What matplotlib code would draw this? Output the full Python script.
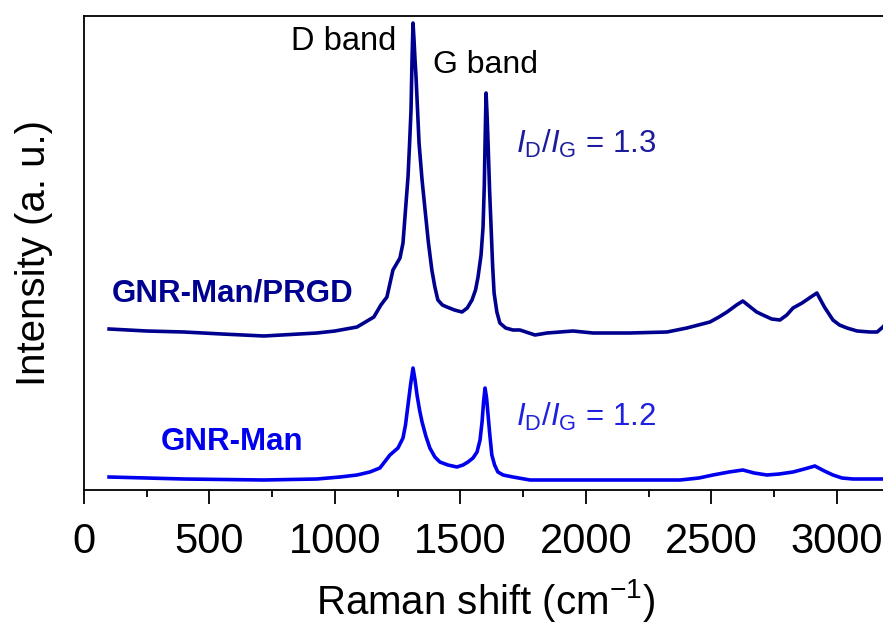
import matplotlib
matplotlib.use("Agg")
import matplotlib.pyplot as plt
from matplotlib.ticker import MultipleLocator

plt.rcParams['font.family'] = ['Liberation Sans', 'DejaVu Sans']
plt.rcParams['mathtext.fontset'] = 'custom'
plt.rcParams['mathtext.rm'] = 'Liberation Sans'
plt.rcParams['mathtext.it'] = 'Liberation Sans:italic'

# Raman shift (cm^-1) and intensity (a.u.)
prgd_shift = [100, 250, 398, 550, 717, 928, 1000, 1088, 1155, 1183, 1207, 1231,
              1245, 1259, 1271, 1281, 1291, 1297, 1303, 1307, 1311, 1315, 1319,
              1323, 1329, 1335, 1347, 1359, 1372, 1386, 1398, 1410, 1428, 1446,
              1476, 1506, 1527, 1546, 1560, 1570, 1582, 1590, 1595, 1598, 1602,
              1606, 1610, 1616, 1622, 1628, 1634, 1645, 1657, 1680, 1709, 1737,
              1797, 1845, 1948, 2028, 2175, 2323, 2402, 2494, 2530, 2562, 2600,
              2625, 2650, 2680, 2705, 2740, 2773, 2800, 2825, 2861, 2890, 2920,
              2950, 2984, 3010, 3040, 3080, 3131, 3160, 3183, 3200]
prgd_int = [161, 159, 158, 156, 154, 157, 159, 163, 173, 185, 193, 220,
            226, 232, 247, 280, 313, 345, 380, 430, 467, 450, 430,
            413, 380, 347, 310, 280, 248, 220, 203, 190, 185, 183,
            180, 178, 182, 190, 200, 213, 235, 263, 305, 347, 397,
            375, 347, 300, 263, 225, 197, 178, 167, 162, 160, 160,
            155, 157, 159, 157, 157, 158, 162, 168, 173, 178, 185,
            189, 184, 178, 175, 171, 170, 175, 182, 187, 192, 197,
            183, 170, 165, 162, 159, 158, 158, 163, 168]

man_shift = [100, 398, 717, 928, 1020, 1088, 1139, 1179, 1219, 1251, 1271, 1281,
             1291, 1301, 1311, 1319, 1327, 1337, 1347, 1362, 1378, 1398, 1418,
             1450, 1486, 1510, 1530, 1550, 1566, 1578, 1586, 1592, 1598, 1604,
             1610, 1617, 1625, 1636, 1649, 1670, 1709, 1777, 1976, 2375, 2450,
             2506, 2570, 2625, 2670, 2721, 2770, 2825, 2870, 2912, 2950, 2984,
             3020, 3064, 3171, 3200]
man_int = [13, 11, 10, 11, 13, 15, 18, 22, 35, 42, 52, 65,
           85, 105, 122, 110, 95, 80, 68, 54, 42, 33, 28,
           25, 23, 25, 28, 32, 38, 50, 68, 88, 102, 92,
           75, 55, 35, 25, 18, 15, 13, 10, 10, 10, 12,
           15, 18, 20, 17, 15, 16, 18, 21, 24, 19, 15,
           12, 11, 11, 11]

xticks = [0, 500, 1000, 1500, 2000, 2500, 3000]

fig = plt.figure(figsize=(8.83, 6.25), dpi=100)
ax = fig.add_axes([0.0951, 0.216, 0.9096, 0.7584])

ax.plot(prgd_shift, prgd_int, color='#00008f', lw=2.6)
ax.plot(man_shift, man_int, color='#0000ee', lw=2.6)

ax.set_xlim(0, 3200)
ax.set_ylim(0, 474)
ax.set_xticks(xticks)
ax.xaxis.set_minor_locator(MultipleLocator(250))
ax.set_yticks([])
ax.tick_params(axis='x', which='major', direction='out', length=10, width=1.3,
               labelsize=30, pad=13)
ax.tick_params(axis='x', which='minor', direction='out', length=5, width=1.3)
for s in ax.spines.values():
    s.set_linewidth(1.3)

ax.set_xlabel('Raman shift (cm$^{\\mathregular{-1}}$)', fontsize=29, labelpad=11)
ax.set_ylabel('Intensity (a. u.)', fontsize=29, labelpad=22)

ax.text(825, 449, 'D band', fontsize=23.5, color='black', ha='left', va='center')
ax.text(1390, 425, 'G band', fontsize=23, color='black', ha='left', va='center')
ax.text(112, 197, 'GNR-Man/PRGD', fontsize=22.5, fontweight='bold',
        color='#000090', ha='left', va='center')
ax.text(307, 48, 'GNR-Man', fontsize=22.5, fontweight='bold',
        color='#0000ee', ha='left', va='center')
ax.text(1721, 337, r'$\mathit{I}_{\mathrm{D}}/\mathit{I}_{\mathrm{G}}$ = 1.3',
        fontsize=22.5, color='#1c1c9c', ha='left', va='baseline')
ax.text(1721, 64, r'$\mathit{I}_{\mathrm{D}}/\mathit{I}_{\mathrm{G}}$ = 1.2',
        fontsize=22.5, color='#2020e0', ha='left', va='baseline')

fig.savefig('out.png', dpi=100)
